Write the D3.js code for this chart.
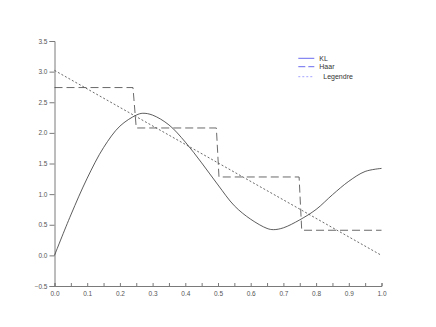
<!DOCTYPE html>
<html><head><meta charset="utf-8">
<script src="https://cdn.jsdelivr.net/npm/d3@7"></script>
<style>html,body{margin:0;padding:0;background:#fff;}svg{display:block;}</style>
</head><body>
<script>
const klX = [0,0.05,0.10,0.15,0.20,0.25,0.27,0.30,0.35,0.40,0.45,0.50,0.55,0.60,0.65,0.67,0.70,0.75,0.80,0.85,0.90,0.95,1.00];
const klY = [0,0.66,1.26,1.76,2.11,2.29,2.32,2.29,2.13,1.85,1.51,1.15,0.81,0.59,0.44,0.42,0.45,0.58,0.75,0.99,1.21,1.37,1.42];
const haarX = [0,0.24,0.25,0.495,0.503,0.748,0.756,1.0];
const haarY = [2.74,2.74,2.08,2.08,1.28,1.28,0.41,0.41];
const legX = [0,1];
const legY = [3.02,0.0];
const xTicks = [0,0.1,0.2,0.3,0.4,0.5,0.6,0.7,0.8,0.9,1.0];
const yTicks = [-0.5,0,0.5,1.0,1.5,2.0,2.5,3.0,3.5];
const legendLabels = ["KL","Haar","Legendre"];

const W=436,H=327;
const svg=d3.select("body").append("svg").attr("width",W).attr("height",H);
const x=d3.scaleLinear().domain([0,1]).range([54.5,381.5]);
const y=d3.scaleLinear().domain([-0.5,3.5]).range([286,41]);
const axisCol="#7a7a7a", txtCol="#555";

// y axis
const ya=svg.append("g").attr("transform","translate(54.5,0)")
  .call(d3.axisLeft(y).tickValues(yTicks).tickFormat(d3.format(".1f")).tickSize(5).tickPadding(2));
// x axis
const xMinor=d3.range(0,1.0001,0.05);
const xa=svg.append("g").attr("transform","translate(0,286)")
  .call(d3.axisTop(x).tickValues(xMinor).tickFormat("").tickSize(3));
const xl=svg.append("g").attr("transform","translate(0,286)")
  .call(d3.axisBottom(x).tickValues(xTicks).tickFormat(d3.format(".1f")).tickSize(0).tickPadding(5));
xl.select(".domain").remove();
[ya,xa,xl].forEach(g=>{
  g.selectAll(".domain,line").attr("stroke",axisCol);
  g.selectAll("text").attr("fill",txtCol).style("font-family","Liberation Sans, Arial, sans-serif").style("font-size","6.5px");
});

const line=d3.line().x(d=>x(d[0])).y(d=>y(d[1]));
const kl=klX.map((v,i)=>[v,klY[i]]);
const haar=haarX.map((v,i)=>[v,haarY[i]]);
const leg=legX.map((v,i)=>[v,legY[i]]);
svg.append("path").attr("d",line.curve(d3.curveCatmullRom)(kl)).attr("fill","none").attr("stroke","#333").attr("stroke-width",0.8);
svg.append("path").attr("d",d3.line().x(d=>x(d[0])).y(d=>y(d[1]))(haar)).attr("fill","none").attr("stroke","#444").attr("stroke-width",0.8).attr("stroke-dasharray","8,4");
svg.append("path").attr("d",d3.line().x(d=>x(d[0])).y(d=>y(d[1]))(leg)).attr("fill","none").attr("stroke","#444").attr("stroke-width",0.8).attr("stroke-dasharray","2,2");

// legend
const lg=svg.append("g");
const ly=[58.3,66.7,76.7];
const lcol=["#5a5aee","#5a5aee","#9a9aff"];
const ldash=[null,"7,3","2,2"];
const ltx=[319.3,319.3,323.3];
legendLabels.forEach((t,i)=>{
  lg.append("line").attr("x1",298.3).attr("x2",314.3).attr("y1",ly[i]).attr("y2",ly[i])
    .attr("stroke",lcol[i]).attr("stroke-width",0.9).attr("stroke-dasharray",ldash[i]);
  lg.append("text").attr("x",ltx[i]).attr("y",ly[i]+2.5).text(t)
    .attr("fill","#333").style("font-family","Liberation Sans, Arial, sans-serif").style("font-size","7px");
});
</script>
</body></html>
